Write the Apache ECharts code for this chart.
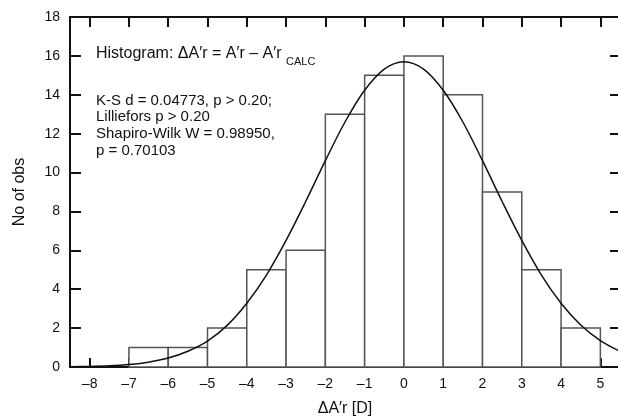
<!DOCTYPE html>
<html>
<head>
<meta charset="utf-8">
<script src="https://cdn.jsdelivr.net/npm/echarts@6/dist/echarts.min.js"></script>
<style>
  html, body { margin: 0; padding: 0; background: #fff; }
  #box { width: 618px; height: 419px; }
</style>
</head>
<body>
<div id="box"></div>
<script>
var chart = echarts.init(document.getElementById('box'));

// histogram bins (left edge, right edge) and counts
var binStart = [-7, -6, -5, -4, -3, -2, -1, 0, 1, 2, 3, 4];
var binEnd   = [-6, -5, -4, -3, -2, -1, 0, 1, 2, 3, 4, 5];
var counts   = [1, 1, 2, 5, 6, 13, 15, 16, 14, 9, 5, 2];

// fitted normal curve
var curveX = [-8.5, -8, -7.5, -7, -6.5, -6, -5.5, -5, -4.5, -4, -3.5, -3, -2.5, -2, -1.5, -1, -0.5, 0,
              0.5, 1, 1.5, 2, 2.5, 3, 3.5, 4, 4.5, 5, 5.5];
var curveY = [0.01, 0.03, 0.06, 0.13, 0.25, 0.46, 0.81, 1.33, 2.14, 3.28, 4.73, 6.51, 8.51, 10.61, 12.6, 14.23, 15.32, 15.7,
              15.32, 14.23, 12.6, 10.61, 8.51, 6.51, 4.73, 3.28, 2.16, 1.36, 0.81];

// tick values
var xTicks = [-8, -7, -6, -5, -4, -3, -2, -1, 0, 1, 2, 3, 4, 5];
var yTicks = [0, 2, 4, 6, 8, 10, 12, 14, 16, 18];

var histData = binStart.map(function(s, i) {
  return [s, binEnd[i], counts[i]];
});
var curveData = curveX.map(function(x, i) {
  return [x, curveY[i]];
});

var font = 'Liberation Sans, Arial, sans-serif';

option = {
  animation: false,
  backgroundColor: '#fff',
  grid: {
    left: 70,
    right: -2,
    top: 17,
    bottom: 52,
    outerBoundsMode: 'none'
  },
  xAxis: [{
    type: 'value',
    min: -8.5,
    max: 5.5,
    name: 'ΔA′r [D]',
    nameLocation: 'middle',
    nameGap: 34,
    nameTextStyle: { fontFamily: font, fontSize: 16, color: '#111' },
    axisLine: { show: true, onZero: false, lineStyle: { color: '#111', width: 2 } },
    axisTick: { show: true, inside: true, length: 9, customValues: xTicks, lineStyle: { color: '#111', width: 2 } },
    axisLabel: {
      fontFamily: font, fontSize: 14, color: '#111', margin: 10,
      customValues: xTicks,
      formatter: function(v) {
        return v < 0 ? '\u2013' + Math.abs(v) : String(v);
      }
    },
    splitLine: { show: false }
  }, {
    type: 'value',
    position: 'top',
    min: -8.5,
    max: 5.5,
    axisLine: { show: true, onZero: false, lineStyle: { color: '#111', width: 2 } },
    axisTick: { show: true, inside: true, length: 10, customValues: xTicks, lineStyle: { color: '#111', width: 2 } },
    axisLabel: { show: false },
    splitLine: { show: false }
  }],
  yAxis: [{
    type: 'value',
    min: 0,
    max: 18,
    interval: 2,
    name: 'No of obs',
    nameLocation: 'middle',
    nameGap: 42,
    nameTextStyle: { fontFamily: font, fontSize: 16, color: '#111' },
    axisLine: { show: true, onZero: false, lineStyle: { color: '#111', width: 2 } },
    axisTick: { show: true, inside: true, length: 11, lineStyle: { color: '#111', width: 2 } },
    axisLabel: {
      fontFamily: font, fontSize: 14, color: '#111', margin: 10,
      formatter: function(v) { return yTicks.indexOf(v) >= 0 ? String(v) : ''; }
    },
    splitLine: { show: false }
  }, {
    type: 'value',
    position: 'right',
    min: 0,
    max: 18,
    interval: 2,
    axisLine: { show: true, onZero: false, lineStyle: { color: '#111', width: 2 } },
    axisTick: { show: true, inside: true, length: 10, lineStyle: { color: '#111', width: 2 } },
    axisLabel: { show: false },
    splitLine: { show: false }
  }],
  graphic: [{
    type: 'text',
    left: 96,
    top: 46,
    style: { text: 'Histogram: ΔA′r = A′r \u2013 A′r', font: '16px ' + font, fill: '#111' }
  }, {
    type: 'text',
    left: 286,
    top: 56,
    style: { text: 'CALC', font: '11px ' + font, fill: '#111' }
  }, {
    type: 'text',
    left: 96,
    top: 92,
    style: {
      text: 'K-S d = 0.04773, p > 0.20;\nLilliefors p > 0.20\nShapiro-Wilk W = 0.98950,\np = 0.70103',
      font: '15px ' + font, fill: '#111', lineHeight: 16.8
    }
  }],
  series: [{
    type: 'custom',
    data: histData,
    renderItem: function(params, api) {
      var p0 = api.coord([api.value(0), api.value(2)]);
      var p1 = api.coord([api.value(1), 0]);
      return {
        type: 'rect',
        shape: { x: p0[0], y: p0[1], width: p1[0] - p0[0], height: p1[1] - p0[1] },
        style: { fill: '#fff', stroke: '#555', lineWidth: 1.5 }
      };
    },
    encode: { x: [0, 1], y: 2 },
    z: 2
  }, {
    type: 'line',
    data: curveData,
    smooth: 0.35,
    showSymbol: false,
    lineStyle: { color: '#111', width: 1.5 },
    z: 3
  }]
};

chart.setOption(option);
</script>
</body>
</html>
